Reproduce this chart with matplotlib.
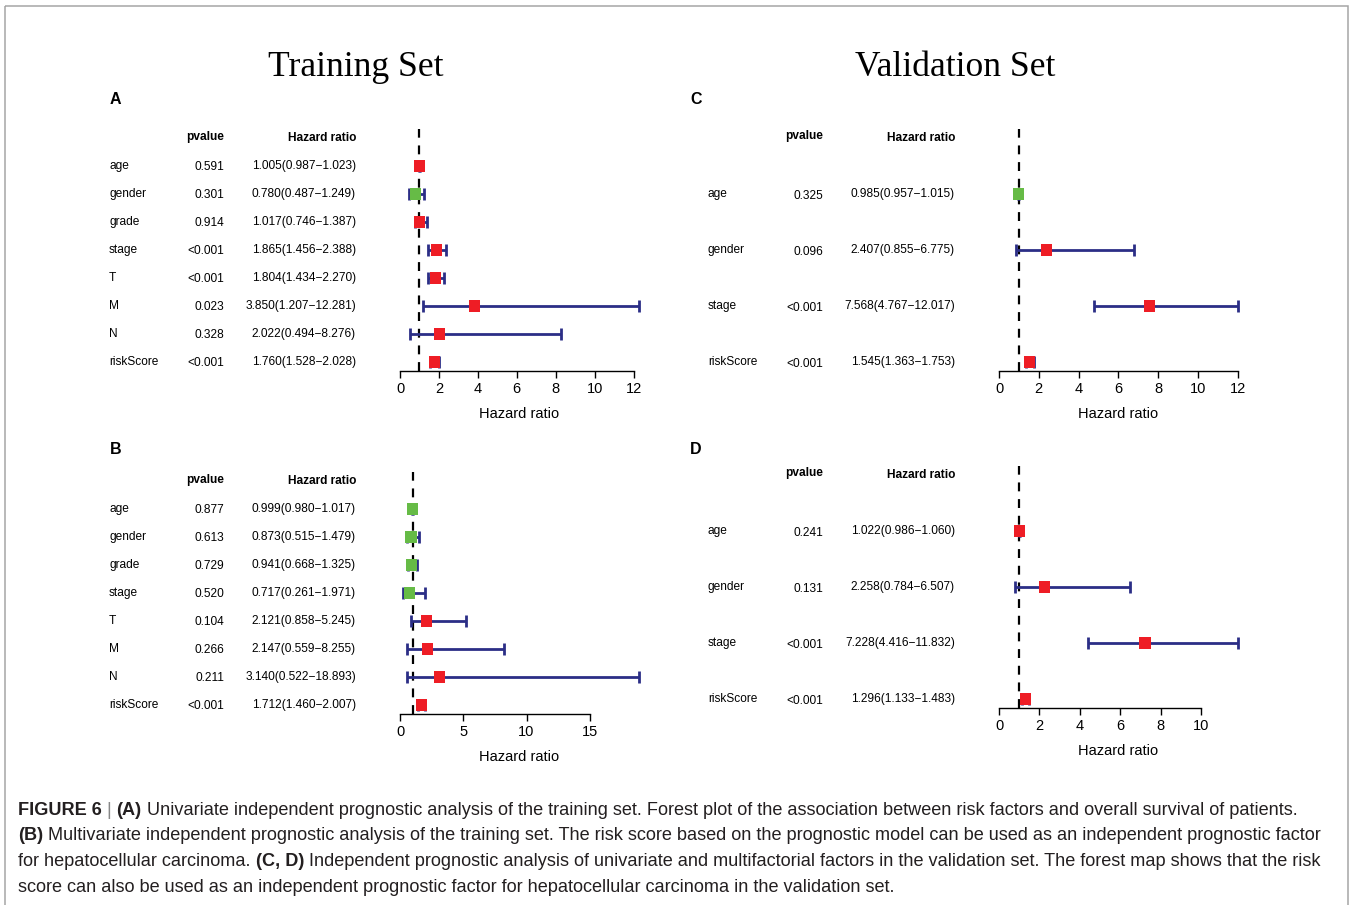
import matplotlib
matplotlib.use("Agg")
import matplotlib.pyplot as plt
from matplotlib.patches import Rectangle
from matplotlib.transforms import blended_transform_factory

plt.rcParams["font.family"] = ["Liberation Sans", "DejaVu Sans"]

# ---- data ----
names_train = ["age", "gender", "grade", "stage", "T", "M", "N", "riskScore"]
names_valid = ["age", "gender", "stage", "riskScore"]

pval_A = ["0.591", "0.301", "0.914", "<0.001", "<0.001", "0.023", "0.328", "<0.001"]
hr_A = [1.005, 0.780, 1.017, 1.865, 1.804, 3.850, 2.022, 1.760]
lo_A = [0.987, 0.487, 0.746, 1.456, 1.434, 1.207, 0.494, 1.528]
hi_A = [1.023, 1.249, 1.387, 2.388, 2.270, 12.281, 8.276, 2.028]

pval_B = ["0.877", "0.613", "0.729", "0.520", "0.104", "0.266", "0.211", "<0.001"]
hr_B = [0.999, 0.873, 0.941, 0.717, 2.121, 2.147, 3.140, 1.712]
lo_B = [0.980, 0.515, 0.668, 0.261, 0.858, 0.559, 0.522, 1.460]
hi_B = [1.017, 1.479, 1.325, 1.971, 5.245, 8.255, 18.893, 2.007]

pval_C = ["0.325", "0.096", "<0.001", "<0.001"]
hr_C = [0.985, 2.407, 7.568, 1.545]
lo_C = [0.957, 0.855, 4.767, 1.363]
hi_C = [1.015, 6.775, 12.017, 1.753]

pval_D = ["0.241", "0.131", "<0.001", "<0.001"]
hr_D = [1.022, 2.258, 7.228, 1.296]
lo_D = [0.986, 0.784, 4.416, 1.133]
hi_D = [1.060, 6.507, 11.832, 1.483]

ticks_A = [0, 2, 4, 6, 8, 10, 12]
ticks_B = [0, 5, 10, 15]
ticks_C = [0, 2, 4, 6, 8, 10, 12]
ticks_D = [0, 2, 4, 6, 8, 10]

caption = [
    [("FIGURE 6", True, "#231F20"), (" | ", False, "#888888"), ("(A)", True, "#231F20"),
     (" Univariate independent prognostic analysis of the training set. Forest plot of the "
      "association between risk factors and overall survival of patients.", False, "#231F20")],
    [("(B)", True, "#231F20"),
     (" Multivariate independent prognostic analysis of the training set. The risk score based "
      "on the prognostic model can be used as an independent prognostic factor", False, "#231F20")],
    [("for hepatocellular carcinoma. ", False, "#231F20"), ("(C, D)", True, "#231F20"),
     (" Independent prognostic analysis of univariate and multifactorial factors in the "
      "validation set. The forest map shows that the risk", False, "#231F20")],
    [("score can also be used as an independent prognostic factor for hepatocellular "
      "carcinoma in the validation set.", False, "#231F20")],
]

W, H = 1352, 905
RED, GREEN, NAVY = "#EE1D25", "#66BB46", "#2B2E86"

fig = plt.figure(figsize=(W / 100, H / 100), dpi=100)
bg = fig.add_axes([0, 0, 1, 1])
bg.set_xlim(0, W)
bg.set_ylim(H, 0)
bg.axis("off")
bg.add_patch(Rectangle((4.5, 6.5), 1343, 1000, fill=False, ec="#A5A5A5", lw=1.1))

bg.text(356, 67, "Training Set", ha="center", va="center", fontsize=25.6,
        family="Liberation Serif")
bg.text(955, 67, "Validation Set", ha="center", va="center", fontsize=25.6,
        family="Liberation Serif")


def forest(label, label_xy, names, pvals, hr, lo, hi, ticks, x0, header_py, row1_py):
    n = len(names)
    xmax = max(hi)
    sp = (row1_py - header_py) / n
    ext = 0.04 * n
    bot = row1_py + ext * sp
    top = header_py - ext * sp
    ppu = 239 / xmax
    left = x0 - 0.04 * xmax * ppu
    right = x0 + 1.04 * xmax * ppu
    ax = fig.add_axes([left / W, 1 - bot / H, (right - left) / W, (bot - top) / H])
    ax.set_xlim(-0.04 * xmax, 1.04 * xmax)
    ax.set_ylim(1 - ext, n + 1 + ext)
    ax.patch.set_alpha(0)

    ys = list(range(n, 0, -1))
    ax.axvline(1, color="black", lw=1.6, ls=(0, (4, 3.5)), zorder=1)
    ax.errorbar(hr, ys, xerr=[[h - l for h, l in zip(hr, lo)], [u - h for h, u in zip(hr, hi)]],
                fmt="none", ecolor=NAVY, elinewidth=2.0, capsize=4.5, capthick=2.0, zorder=2)
    colors = [RED if h > 1 else GREEN for h in hr]
    ax.scatter(hr, ys, marker="s", s=64, c=colors, linewidths=0, zorder=3)

    for s in ["top", "right", "left"]:
        ax.spines[s].set_visible(False)
    ax.spines["bottom"].set_bounds(ticks[0], ticks[-1])
    ax.spines["bottom"].set_linewidth(1.0)
    ax.set_yticks([])
    ax.set_xticks(ticks)
    ax.tick_params(axis="x", length=5, width=1.0, labelsize=10.5, pad=3)
    ax.set_xlabel("Hazard ratio", fontsize=10.5, labelpad=8)

    # table on the left, sharing the row coordinates
    tr = blended_transform_factory(bg.transData, ax.transData)
    tx = x0 - 291
    dy = -0.03
    for y, nm, p, h, l, u in zip(ys, names, pvals, hr, lo, hi):
        ax.text(tx, y, nm, transform=tr, ha="left", va="center", fontsize=8.6, clip_on=False)
        ax.text(tx + 115, y + dy, p, transform=tr, ha="right", va="center", fontsize=8.6,
                clip_on=False)
        ax.text(tx + 247, y, f"{h:.3f}({l:.3f}\u2212{u:.3f})", transform=tr, ha="right",
                va="center", fontsize=8.6, clip_on=False)
    ax.text(tx + 115, n + 1.03, "pvalue", transform=tr, ha="right", va="center",
            fontsize=8.6, fontweight="bold", clip_on=False)
    ax.text(tx + 247, n + 1, "Hazard ratio", transform=tr, ha="right", va="center",
            fontsize=8.6, fontweight="bold", clip_on=False)
    bg.text(label_xy[0], label_xy[1], label, ha="left", va="center", fontsize=11.5,
            fontweight="bold")


forest("A", (110, 100), names_train, pval_A, hr_A, lo_A, hi_A, ticks_A, 400, 138, 362)
forest("B", (110, 449), names_train, pval_B, hr_B, lo_B, hi_B, ticks_B, 400, 481, 705)
forest("C", (690, 100), names_valid, pval_C, hr_C, lo_C, hi_C, ticks_C, 999, 138, 362)
forest("D", (690, 449), names_valid, pval_D, hr_D, lo_D, hi_D, ticks_D, 999, 475, 699)

# caption with mixed bold runs
renderer = fig.canvas.get_renderer()
for i, parts in enumerate(caption):
    x = 18
    y = 810 + i * 25.7
    for s, bold, col in parts:
        t = bg.text(x, y, s, ha="left", va="center", fontsize=13.05, color=col,
                    fontweight="bold" if bold else "normal")
        x += t.get_window_extent(renderer).width

fig.savefig("out.png", dpi=100)
